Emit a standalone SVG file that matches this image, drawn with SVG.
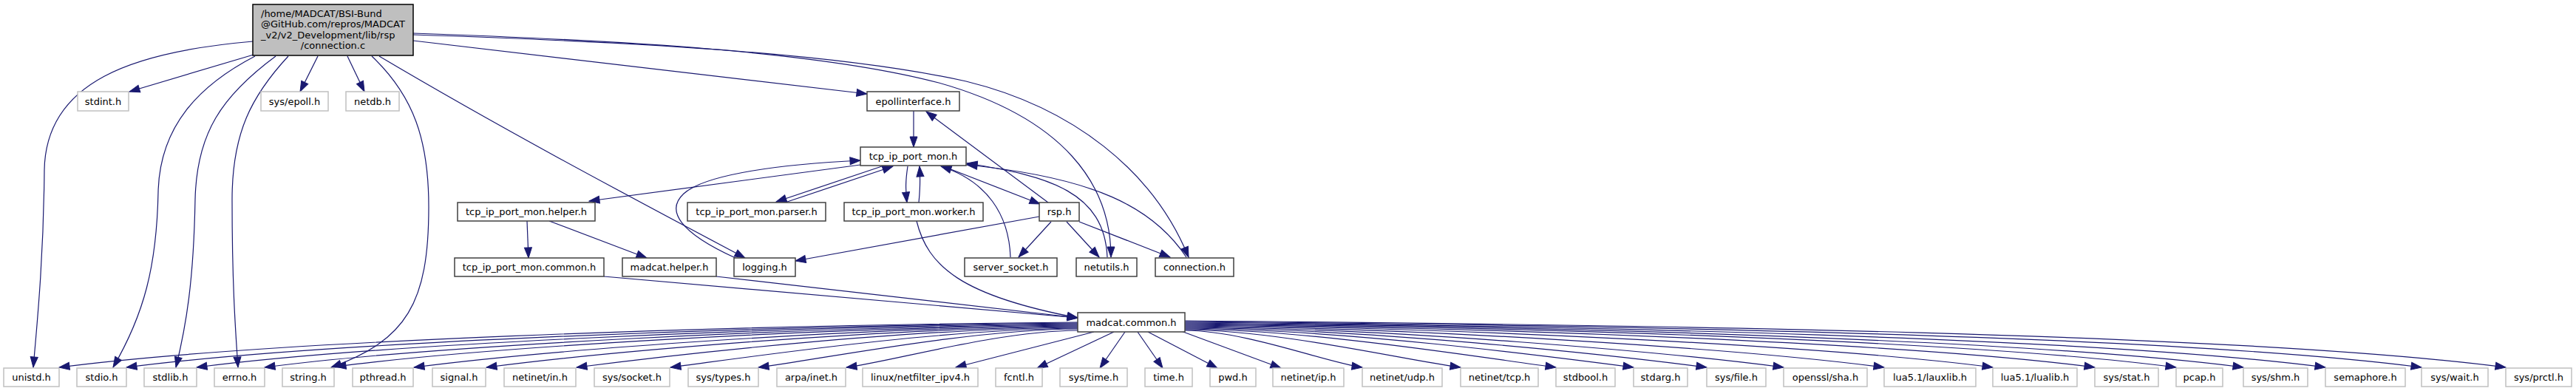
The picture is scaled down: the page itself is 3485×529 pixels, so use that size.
<svg xmlns="http://www.w3.org/2000/svg" width="3485" height="529" viewBox="0 0 3485 529">
<style>
rect{fill:#fff;stroke-width:1.5}
.d rect{stroke:#404040}
.u rect{stroke:#c0c0c0}
.m rect{fill:#bfbfbf;stroke:#000}
text{font-family:"DejaVu Sans","Liberation Sans",sans-serif;font-size:13px;text-anchor:middle;fill:#000}
.l{text-anchor:start}
#edges path{fill:none;stroke:#191970;stroke-width:1.2;marker-end:url(#a)}
</style>
<defs>
<marker id="a" markerUnits="userSpaceOnUse" markerWidth="16" markerHeight="12" refX="14" refY="5" orient="auto" overflow="visible">
<path d="M0,0 L14,5 L0,10 Z" fill="#191970" stroke="#191970" stroke-width="1"/>
</marker>
</defs>
<rect width="3485" height="529" fill="#fff" stroke="none"/>
<g id="edges">
<path d="M342,56 C180,70 62,110 60,230 C59,350 50,440 45,497"/>
<path d="M343,74 L175,124"/>
<path d="M345,76 C270,115 216,170 214,260 C212,360 195,425 153,497"/>
<path d="M373,76 C300,130 266,180 264,270 C262,380 252,440 238,497"/>
<path d="M390,76 C340,130 314,180 314,270 C314,380 318,440 322,497"/>
<path d="M430,76 L406,124"/>
<path d="M470,76 L493,124"/>
<path d="M503,76 C560,130 580,190 580,280 C580,410 550,460 448,497"/>
<path d="M513,76 C680,175 850,265 1008,349"/>
<path d="M559,55 L1173,127"/>
<path d="M559,45 C850,55 1110,70 1270,112 C1440,160 1503,250 1503,348"/>
<path d="M559,47 C900,58 1150,75 1307,110 C1450,145 1560,230 1608,348"/>
<path d="M1236,150 L1236,199"/>
<path d="M1418,274 L1253,151"/>
<path d="M1276,225 L1407,276"/>
<path d="M1367,348 C1365,290 1335,245 1273,225"/>
<path d="M1498,348 C1494,260 1420,238 1308,221"/>
<path d="M1605,348 C1560,280 1480,240 1308,223"/>
<path d="M1228,225 C1225,245 1225,255 1227,274"/>
<path d="M1243,274 C1245,255 1245,240 1244,225"/>
<path d="M1193,225 L1050,273"/>
<path d="M1065,273 L1208,225"/>
<path d="M1164,223 L797,272"/>
<path d="M995,349 C920,315 900,285 925,262 C955,235 1060,222 1164,217"/>
<path d="M1406,293 L1076,353"/>
<path d="M1422,300 L1378,348"/>
<path d="M1443,300 L1487,348"/>
<path d="M1460,300 L1583,348"/>
<path d="M713,299 L715,349"/>
<path d="M743,299 L875,349"/>
<path d="M817,374 L1458,430"/>
<path d="M969,374 L1458,430"/>
<path d="M1240,299 C1255,360 1300,400 1458,430"/>
<path d="M1458,436 C975.7,440.1 355.6,461.2 80,497"/>
<path d="M1458,437 C1007.5,440.9 428.4,463.5 171,497"/>
<path d="M1458,438 C1040.8,441.6 504.4,466 266,497"/>
<path d="M1458,439 C1073,442.3 578,468.4 358,497"/>
<path d="M1458,440 C1106.6,443 654.8,469.9 454,496"/>
<path d="M1458,441 C1143.7,443.7 739.6,473.7 560,497"/>
<path d="M1458,442 C1178,444.4 818,476.2 658,497"/>
<path d="M1458,443 C1220.7,445 915.6,479.4 780,497"/>
<path d="M1458,444 C1265.2,445.7 1017.2,482.7 907,497"/>
<path d="M1458,445 C1306.8,446.3 1112.4,485.8 1026,497"/>
<path d="M1458,447 C1348.5,447.9 1207.6,488.9 1145,497"/>
<path d="M1480,449 L1293,497"/>
<path d="M1507,449 L1403,498"/>
<path d="M1522,449 L1488,498"/>
<path d="M1539,449 L1573,498"/>
<path d="M1553,449 L1647,498"/>
<path d="M1598,448 L1733,498"/>
<path d="M1603,447 C1687,447.7 1795,490.8 1843,497"/>
<path d="M1603,446 C1733.6,447.1 1901.4,487.3 1976,497"/>
<path d="M1603,445 C1778.7,446.5 2004.6,484 2105,497"/>
<path d="M1603,444 C1815.5,445.8 2088.6,481.2 2210,497"/>
<path d="M1603,443 C1850.1,445.1 2167.8,478.6 2309,497"/>
<path d="M1603,442 C1886.5,444.4 2251,475.9 2413,497"/>
<path d="M1603,441 C1934.1,443.8 2359.8,472.4 2549,497"/>
<path d="M1603,440 C1985.6,443.3 2477.4,468.6 2696,497"/>
<path d="M1603,439 C2033.9,442.7 2587.8,465 2834,497"/>
<path d="M1603,438 C2072.4,442 2675.8,462.1 2944,497"/>
<path d="M1603,437 C2104.2,441.3 2748.6,459.8 3035,497"/>
<path d="M1603,436 C2143.1,440.6 2837.4,456.9 3146,497"/>
<path d="M1603,435 C2188.6,440 2941.4,453.5 3276,497"/>
<path d="M1603,434 C2228.5,439.4 3032.6,450.5 3390,497"/>
</g>
<g id="node-main" class="m"><rect x="342" y="6" width="217" height="69"/>
<text class="l" x="353" y="22.5">/home/MADCAT/BSI-Bund</text>
<text class="l" x="353" y="37">@GitHub.com/repros/MADCAT</text>
<text class="l" x="353" y="51.5">_v2/v2_Development/lib/rsp</text>
<text x="450.5" y="66">/connection.c</text></g>
<g id="node-stdint" class="u"><rect x="105" y="124" width="69" height="26"/><text x="139.5" y="141.5">stdint.h</text></g>
<g id="node-sysepoll" class="u"><rect x="353" y="124" width="91" height="26"/><text x="398.5" y="141.5">sys/epoll.h</text></g>
<g id="node-netdb" class="u"><rect x="468" y="124" width="72" height="26"/><text x="504" y="141.5">netdb.h</text></g>
<g id="node-epollinterface" class="d"><rect x="1173" y="124" width="125" height="26"/><text x="1235.5" y="141.5">epollinterface.h</text></g>
<g id="node-tcpipportmon" class="d"><rect x="1164" y="199" width="143" height="25"/><text x="1235.5" y="216">tcp_ip_port_mon.h</text></g>
<g id="node-helper" class="d"><rect x="619" y="274" width="186" height="25"/><text x="712" y="291">tcp_ip_port_mon.helper.h</text></g>
<g id="node-parser" class="d"><rect x="930" y="274" width="187" height="25"/><text x="1023.5" y="291">tcp_ip_port_mon.parser.h</text></g>
<g id="node-worker" class="d"><rect x="1142" y="274" width="188" height="25"/><text x="1236" y="291">tcp_ip_port_mon.worker.h</text></g>
<g id="node-rsp" class="d"><rect x="1406" y="274" width="54" height="25"/><text x="1433" y="291">rsp.h</text></g>
<g id="node-common" class="d"><rect x="615" y="349" width="202" height="25"/><text x="716" y="366">tcp_ip_port_mon.common.h</text></g>
<g id="node-madcathelper" class="d"><rect x="842" y="349" width="127" height="25"/><text x="905.5" y="366">madcat.helper.h</text></g>
<g id="node-logging" class="d"><rect x="993" y="349" width="83" height="25"/><text x="1034.5" y="366">logging.h</text></g>
<g id="node-serversocket" class="d"><rect x="1305" y="349" width="125" height="25"/><text x="1367.5" y="366">server_socket.h</text></g>
<g id="node-netutils" class="d"><rect x="1456" y="349" width="82" height="25"/><text x="1497" y="366">netutils.h</text></g>
<g id="node-connectionh" class="d"><rect x="1563" y="349" width="106" height="25"/><text x="1616" y="366">connection.h</text></g>
<g id="node-madcatcommon" class="d"><rect x="1458" y="423" width="145" height="26"/><text x="1530.5" y="440.5">madcat.common.h</text></g>
<g id="node-unistd" class="u"><rect x="5" y="498" width="75" height="25"/><text x="42.5" y="515">unistd.h</text></g>
<g id="node-stdio" class="u"><rect x="104" y="498" width="67" height="25"/><text x="137.5" y="515">stdio.h</text></g>
<g id="node-stdlib" class="u"><rect x="195" y="498" width="71" height="25"/><text x="230.5" y="515">stdlib.h</text></g>
<g id="node-errno" class="u"><rect x="290" y="498" width="68" height="25"/><text x="324" y="515">errno.h</text></g>
<g id="node-string" class="u"><rect x="382" y="498" width="70" height="25"/><text x="417" y="515">string.h</text></g>
<g id="node-pthread" class="u"><rect x="477" y="498" width="82" height="25"/><text x="518" y="515">pthread.h</text></g>
<g id="node-signal" class="u"><rect x="585" y="498" width="72" height="25"/><text x="621" y="515">signal.h</text></g>
<g id="node-netinetin" class="u"><rect x="682" y="498" width="97" height="25"/><text x="730.5" y="515">netinet/in.h</text></g>
<g id="node-syssocket" class="u"><rect x="804" y="498" width="102" height="25"/><text x="855" y="515">sys/socket.h</text></g>
<g id="node-systypes" class="u"><rect x="931" y="498" width="95" height="25"/><text x="978.5" y="515">sys/types.h</text></g>
<g id="node-arpainet" class="u"><rect x="1051" y="498" width="93" height="25"/><text x="1097.5" y="515">arpa/inet.h</text></g>
<g id="node-netfilter" class="u"><rect x="1167" y="498" width="156" height="25"/><text x="1245" y="515">linux/netfilter_ipv4.h</text></g>
<g id="node-fcntl" class="u"><rect x="1347" y="498" width="63" height="25"/><text x="1378.5" y="515">fcntl.h</text></g>
<g id="node-systime" class="u"><rect x="1434" y="498" width="91" height="25"/><text x="1479.5" y="515">sys/time.h</text></g>
<g id="node-time" class="u"><rect x="1549" y="498" width="64" height="25"/><text x="1581" y="515">time.h</text></g>
<g id="node-pwd" class="u"><rect x="1637" y="498" width="62" height="25"/><text x="1668" y="515">pwd.h</text></g>
<g id="node-netinetip" class="u"><rect x="1722" y="498" width="96" height="25"/><text x="1770" y="515">netinet/ip.h</text></g>
<g id="node-netinetudp" class="u"><rect x="1843" y="498" width="108" height="25"/><text x="1897" y="515">netinet/udp.h</text></g>
<g id="node-netinettcp" class="u"><rect x="1976" y="498" width="105" height="25"/><text x="2028.5" y="515">netinet/tcp.h</text></g>
<g id="node-stdbool" class="u"><rect x="2105" y="498" width="80" height="25"/><text x="2145" y="515">stdbool.h</text></g>
<g id="node-stdarg" class="u"><rect x="2210" y="498" width="73" height="25"/><text x="2246.5" y="515">stdarg.h</text></g>
<g id="node-sysfile" class="u"><rect x="2309" y="498" width="80" height="25"/><text x="2349" y="515">sys/file.h</text></g>
<g id="node-opensslsha" class="u"><rect x="2413" y="498" width="113" height="25"/><text x="2469.5" y="515">openssl/sha.h</text></g>
<g id="node-lauxlib" class="u"><rect x="2549" y="498" width="124" height="25"/><text x="2611" y="515">lua5.1/lauxlib.h</text></g>
<g id="node-lualib" class="u"><rect x="2696" y="498" width="114" height="25"/><text x="2753" y="515">lua5.1/lualib.h</text></g>
<g id="node-sysstat" class="u"><rect x="2834" y="498" width="86" height="25"/><text x="2877" y="515">sys/stat.h</text></g>
<g id="node-pcap" class="u"><rect x="2944" y="498" width="63" height="25"/><text x="2975.5" y="515">pcap.h</text></g>
<g id="node-sysshm" class="u"><rect x="3035" y="498" width="87" height="25"/><text x="3078.5" y="515">sys/shm.h</text></g>
<g id="node-semaphore" class="u"><rect x="3146" y="498" width="108" height="25"/><text x="3200" y="515">semaphore.h</text></g>
<g id="node-syswait" class="u"><rect x="3276" y="498" width="90" height="25"/><text x="3321" y="515">sys/wait.h</text></g>
<g id="node-sysprctl" class="u"><rect x="3390" y="498" width="89" height="25"/><text x="3434.5" y="515">sys/prctl.h</text></g>
</svg>
